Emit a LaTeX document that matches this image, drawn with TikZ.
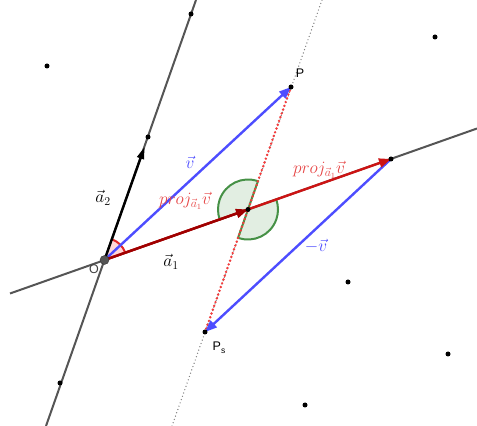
\documentclass[tikz,border=0pt]{standalone}
\usepackage{fontspec}
\setsansfont{Liberation Sans}
\usetikzlibrary{arrows.meta,calc}
\definecolor{gline}{RGB}{85,85,85}
\definecolor{vblue}{RGB}{77,77,255}
\definecolor{projred}{RGB}{204,20,20}
\definecolor{aonered}{RGB}{160,0,0}
\definecolor{labred}{RGB}{230,70,70}
\definecolor{angred}{RGB}{225,40,40}
\definecolor{angfill}{RGB}{255,215,215}
\definecolor{grnline}{RGB}{70,145,70}
\definecolor{grnfill}{RGB}{226,238,226}
\definecolor{dotred}{RGB}{245,60,60}
\tikzset{
  axisline/.style={gline,line width=2pt},
  vecline/.style={line width=2.4pt,-{Triangle[length=12pt,width=9pt]}},
  pt/.style={circle,fill=black,inner sep=0pt,minimum size=5pt},
  bigpt/.style={circle,fill=gline,draw=black!80,inner sep=0pt,minimum size=9pt},
  lab/.style={font=\fontsize{17}{19}\selectfont,inner sep=1pt},
  slab/.style={font=\sffamily\fontsize{12.5}{14}\selectfont,inner sep=1pt}
}
\begin{document}
\begin{tikzpicture}[x=1pt,y=1pt]
\useasboundingbox (0,0) rectangle (477,426);
\clip (0,0) rectangle (477,426);
% key points
\coordinate (O) at (104.5,166);
\coordinate (A2) at (148,289);
\coordinate (A2tip) at (144.5,279);
\coordinate (M) at (248,216.5);
\coordinate (Q) at (391,267);
\coordinate (P) at (291,339);
\coordinate (Ps) at (205,94);
% line ends
\coordinate (L1a) at (10,132.5);
\coordinate (L1b) at (477,297.5);
\coordinate (L2a) at (46,0);
\coordinate (L2b) at (196,426);
\coordinate (L3a) at (172,0);
\coordinate (L3b) at (322,426);
% lines
\draw[axisline] (L1a) -- (L1b);
\draw[axisline] (L2a) -- (L2b);
\draw[gray,line width=1.4pt,line cap=round,dash pattern=on 0pt off 3.5pt] (L3a) -- (L3b);
% angle at O
\fill[angfill] (O) -- ++(19.42:22) arc[start angle=19.42,end angle=70.7,radius=22] -- cycle;
\draw[angred,line width=2pt] ($(O)+(19.42:22)$) arc[start angle=19.42,end angle=70.7,radius=22];
% green angle at M
\filldraw[fill=grnfill,draw=grnline,line width=2pt] (M) -- ++(70.66:30) arc[start angle=70.66,end angle=199.42,radius=30] -- cycle;
\filldraw[fill=grnfill,draw=grnline,line width=2pt] (M) -- ++(250.66:30) arc[start angle=250.66,end angle=379.42,radius=30] -- cycle;
% red dotted segment
\draw[dotred,line width=2.7pt,line cap=round,dash pattern=on 0pt off 4pt] (P) -- (Ps);
% vectors
\draw[vecline,vblue] (O) -- (P);
\draw[vecline,vblue] (Q) -- (Ps);
\draw[vecline,projred] (O) -- (Q);
\draw[vecline,aonered] (O) -- (M);
\draw[vecline,black,-{Triangle[length=12pt,width=7pt]}] (O) -- (A2tip);
% points
\node[pt] (nA2) at (A2) {};
\node[pt] (nM) at (M) {};
\node[pt] (nQ) at (Q) {};
\node[pt] (nP) at (P) {};
\node[pt] (nPs) at (Ps) {};
\node[pt] (d1) at (47,360) {};
\node[pt] (d2) at (435,389) {};
\node[pt] (d3) at (348,144) {};
\node[pt] (d4) at (448,72) {};
\node[pt] (d5) at (305,21) {};
\node[pt] (d6) at (60,43) {};
\node[pt] (d7) at (191,412) {};
\node[bigpt] (nO) at (O) {};
% labels
\node[slab,text=black!75] (lO) at (94,157) {O};
\node[slab] (lP) at (300,353) {P};
\node[slab] (lPs) at (219,78) {P\raisebox{-0.45ex}{\fontsize{8.5}{9}\selectfont s}};
\node[lab,text=vblue] (lv) at (190,264) {$\vec{v}$};
\node[lab,text=vblue] (lmv) at (316,180) {$-\vec{v}$};
\node[lab] (la2) at (103,228) {$\vec{a}_2$};
\node[lab] (la1) at (171,164) {$\vec{a}_1$};
\node[lab,text=labred] (lp1) at (185,225) {$proj_{\vec{a}_1}\vec{v}$};
\node[lab,text=labred] (lp2) at (319,256) {$proj_{\vec{a}_1}\vec{v}$};
\end{tikzpicture}
\end{document}
